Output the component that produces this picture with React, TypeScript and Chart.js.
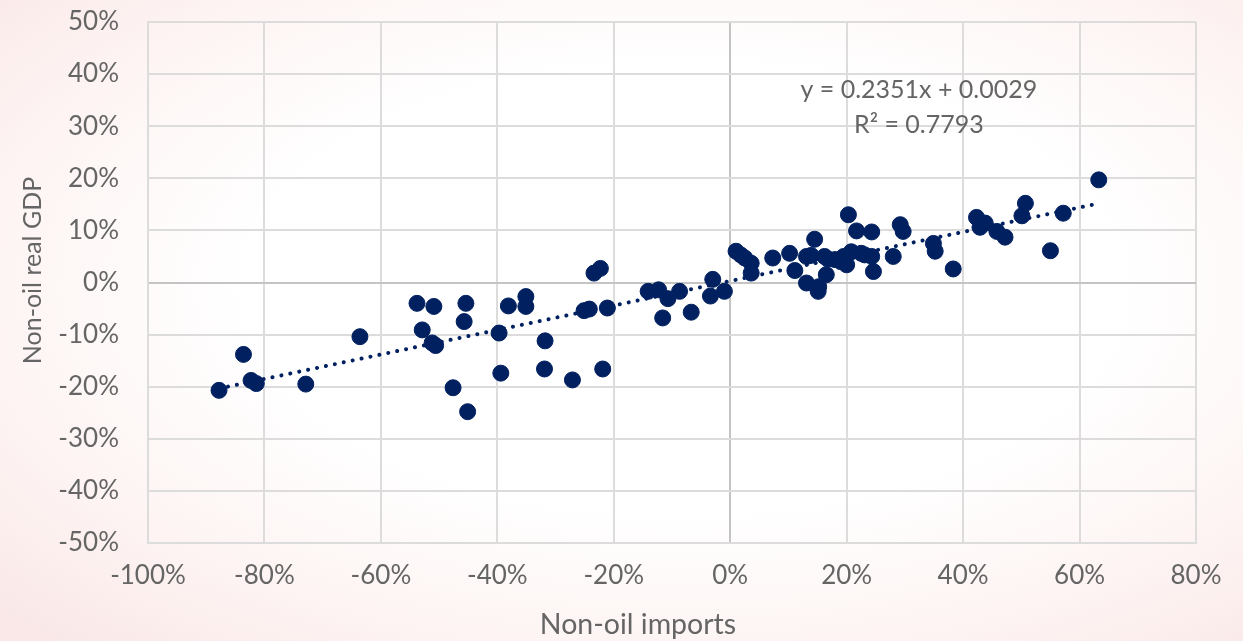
import React, { useEffect, useRef } from "react";
import { Chart, registerables } from "chart.js";

Chart.register(...registerables);

// Non-oil imports growth (%)
const importsGrowth: number[] = [
  -87.8, -83.6, -82.3, -81.4, -72.9, -63.6, -53.8, -50.9, -45.4, -45.7,
  -52.9, -51.2, -50.6, -47.6, -45.1, -39.7, -39.4, -38.1, -35.1, -35.1,
  -31.8, -31.9, -27.1, -21.9, -23.4, -22.3, -25.1, -24.2, -21.1, -14.1,
  -12.3, -10.7, -11.6, -8.7, -6.7, -3.0, -3.4, -1.0, 1.0, 1.8,
  2.5, 3.6, 3.6, 7.3, 10.2, 11.1, 13.1, 14.5, 13.9, 13.1,
  15.1, 15.2, 16.5, 16.2, 16.8, 18.0, 19.0, 19.5, 20.3, 20.0,
  20.8, 21.7, 22.5, 24.3, 23.1, 24.6, 24.3, 28.0, 29.2, 29.7,
  34.9, 35.2, 38.3, 42.3, 43.8, 42.9, 45.8, 47.2, 50.1, 50.7,
  55.0, 57.2, 63.3,
];

// Non-oil real GDP growth (%)
const gdpGrowth: number[] = [
  -20.7, -13.8, -18.8, -19.4, -19.5, -10.4, -4.0, -4.6, -4.0, -7.5,
  -9.1, -11.6, -12.1, -20.2, -24.8, -9.7, -17.4, -4.5, -2.7, -4.6,
  -11.2, -16.6, -18.7, -16.6, 1.8, 2.7, -5.4, -5.1, -4.9, -1.7,
  -1.4, -3.1, -6.8, -1.7, -5.7, 0.6, -2.6, -1.7, 6.0, 5.3,
  4.7, 3.7, 1.8, 4.7, 5.6, 2.3, 5.0, 8.3, 5.2, -0.1,
  -1.7, -0.8, 1.5, 5.0, 4.5, 4.4, 4.0, 5.0, 13.0, 3.4,
  5.9, 9.9, 5.6, 9.7, 5.3, 2.1, 5.0, 5.0, 11.1, 9.8,
  7.5, 6.0, 2.6, 12.5, 11.4, 10.6, 9.8, 8.7, 12.8, 15.2,
  6.1, 13.3, 19.7,
];

// Linear trend shown on the chart: y = 0.2351x + 0.0029
const trendSlope = 0.2351;
const trendIntercept = 0.0029;
const trendRange: number[] = [-87.8, 63.3];
const equationLines: string[] = ["y = 0.2351x + 0.0029", "R² = 0.7793"];

const xTitle = "Non-oil imports";
const yTitle = "Non-oil real GDP";

const FONT = "Lato, 'Open Sans', sans-serif";
const TEXT = "#656565";
const NAVY = "#002060";

export default function App() {
  const ref = useRef<HTMLCanvasElement | null>(null);

  useEffect(() => {
    if (!ref.current) return;
    const points = importsGrowth.map((x, i) => ({ x, y: gdpGrowth[i] }));
    const trend = trendRange.map((x) => ({
      x,
      y: (trendSlope * (x / 100) + trendIntercept) * 100,
    }));

    const textPlugin = {
      id: "textPlugin",
      afterDraw(chart: any) {
        const { ctx, chartArea, scales } = chart;
        const xs = scales.x;
        const ys = scales.y;
        ctx.save();
        ctx.fillStyle = TEXT;
        ctx.textAlign = "center";
        ctx.textBaseline = "middle";
        ctx.font = `25px ${FONT}`;
        const ex = xs.getPixelForValue(32.4);
        ctx.fillText(equationLines[0], ex, ys.getPixelForValue(37.0));
        ctx.fillText(equationLines[1], ex, ys.getPixelForValue(30.3));

        ctx.font = `28.5px ${FONT}`;
        const cx = (chartArea.left + chartArea.right) / 2 - 34;
        ctx.fillText(xTitle, cx, chartArea.bottom + 82);
        ctx.font = `25px ${FONT}`;
        const cy = (chartArea.top + chartArea.bottom) / 2 - 12;
        ctx.translate(chartArea.left - 115, cy);
        ctx.rotate(-Math.PI / 2);
        ctx.fillText(yTitle, 0, 0);
        ctx.restore();
      },
    };

    const gridColor = (ctx: any) =>
      ctx.tick && ctx.tick.value === 0 ? "#c4c4c4" : "#dcdcdc";

    const chart = new Chart(ref.current, {
      type: "scatter",
      data: {
        datasets: [
          {
            type: "line",
            data: trend,
            borderColor: NAVY,
            borderWidth: 4,
            borderCapStyle: "round",
            borderDash: [0.1, 9],
            pointRadius: 0,
            fill: false,
            order: 1,
          } as any,
          {
            data: points,
            backgroundColor: NAVY,
            borderColor: NAVY,
            pointRadius: 8,
            pointHoverRadius: 8,
            order: 0,
          },
        ],
      },
      options: {
        animation: false,
        responsive: false,
        maintainAspectRatio: false,
        layout: { padding: { top: 22, right: 47, left: 0, bottom: 0 } },
        plugins: {
          legend: { display: false },
          tooltip: { enabled: false },
        },
        scales: {
          x: {
            type: "linear",
            min: -100,
            max: 80,
            ticks: {
              stepSize: 20,
              color: TEXT,
              font: { family: FONT, size: 26 },
              padding: 17,
              callback: (v: any) => `${Math.round(Number(v))}%`,
            },
            grid: { color: gridColor, lineWidth: 2, drawTicks: false },
            border: { display: true, color: "#dcdcdc", width: 2 },
            afterFit: (s: any) => {
              s.height = 98;
              s.paddingLeft = 0;
              s.paddingRight = 0;
            },
          },
          y: {
            type: "linear",
            min: -50,
            max: 50,
            ticks: {
              stepSize: 10,
              color: TEXT,
              font: { family: FONT, size: 26 },
              padding: 29,
              callback: (v: any) => `${Math.round(Number(v))}%`,
            },
            grid: { color: gridColor, lineWidth: 2, drawTicks: false },
            border: { display: true, color: "#dcdcdc", width: 2 },
            afterFit: (s: any) => {
              s.width = 148;
              s.paddingTop = 0;
              s.paddingBottom = 0;
            },
          },
        },
      },
      plugins: [textPlugin],
    });
    return () => chart.destroy();
  }, []);

  return (
    <div
      style={{
        position: "fixed",
        left: 0,
        top: 0,
        width: 1243,
        height: 641,
        background:
          "radial-gradient(ellipse at 55% 45%, #ffffff 45%, #fdf3f2 75%, #f9e6e6 100%)",
      }}
    >
      <canvas ref={ref} width={1243} height={641} style={{ display: "block" }} />
    </div>
  );
}
